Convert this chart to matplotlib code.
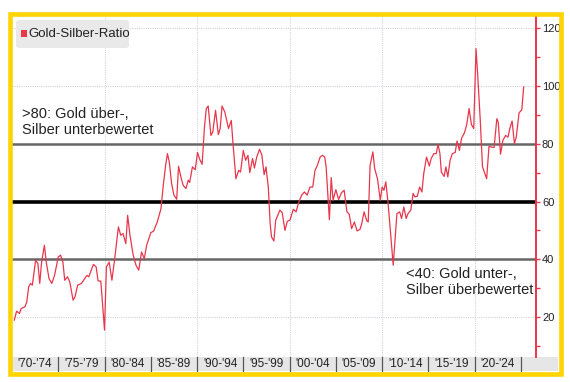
import matplotlib
matplotlib.use("Agg")
import matplotlib.pyplot as plt
from matplotlib.patches import Rectangle, FancyBboxPatch

plt.rcParams['font.family'] = ['Liberation Sans', 'DejaVu Sans']

# Gold-Silber-Ratio
years = [1970.25, 1970.5, 1970.8, 1971.0, 1971.4, 1971.6, 1971.8, 1972.0, 1972.2, 1972.55,
         1972.8, 1973.0, 1973.2, 1973.5, 1973.7, 1974.0, 1974.3, 1974.6, 1975.0, 1975.25,
         1975.5, 1975.7, 1976.0, 1976.25, 1976.6, 1976.8, 1977.1, 1977.5, 1978.1, 1978.3,
         1978.8, 1979.1, 1979.3, 1979.6, 1979.85, 1980.0, 1980.2, 1980.5, 1980.8, 1981.1,
         1981.5, 1981.75, 1982.0, 1982.3, 1982.5, 1982.75, 1983.1, 1983.4, 1983.7, 1984.0,
         1984.3, 1984.55, 1985.0, 1985.3, 1985.7, 1986.1, 1986.35, 1986.6, 1986.8, 1987.0,
         1987.25, 1987.5, 1987.8, 1988.0, 1988.3, 1988.5, 1988.8, 1989.05, 1989.2, 1989.5,
         1989.8, 1990.05, 1990.3, 1990.55, 1990.8, 1991.0, 1991.2, 1991.5, 1991.7, 1992.0,
         1992.3, 1992.5, 1992.7, 1993.0, 1993.4, 1993.7, 1993.9, 1994.2, 1994.5, 1994.7,
         1995.0, 1995.25, 1995.5, 1995.7, 1996.0, 1996.2, 1996.45, 1996.75, 1997.0, 1997.25,
         1997.45, 1997.7, 1997.9, 1998.05, 1998.3, 1998.5, 1998.95, 1999.2, 1999.5, 1999.75,
         2000.05, 2000.4, 2000.7, 2000.95, 2001.3, 2001.6, 2001.9, 2002.2, 2002.5, 2002.75,
         2003.0, 2003.3, 2003.55, 2003.8, 2003.95, 2004.1, 2004.3, 2004.5, 2004.7, 2005.0,
         2005.3, 2005.6, 2005.9, 2006.2, 2006.45, 2006.7, 2007.0, 2007.3, 2007.6, 2007.8,
         2008.05, 2008.35, 2008.5, 2008.7, 2009.0, 2009.2, 2009.5, 2009.8, 2010.0, 2010.2,
         2010.4, 2010.65, 2010.95, 2011.2, 2011.6, 2011.9, 2012.1, 2012.35, 2012.6, 2012.8,
         2013.1, 2013.35, 2013.55, 2013.8, 2014.05, 2014.3, 2014.5, 2014.8, 2015.1, 2015.3,
         2015.6, 2015.85, 2016.05, 2016.25, 2016.4, 2016.7, 2016.9, 2017.1, 2017.35, 2017.6,
         2017.9, 2018.1, 2018.35, 2018.6, 2018.9, 2019.15, 2019.4, 2019.65, 2019.9, 2020.15,
         2020.3, 2020.6, 2020.85, 2021.3, 2021.55, 2021.8, 2022.1, 2022.4, 2022.55, 2022.8,
         2023.05, 2023.35, 2023.6, 2023.8, 2024.05, 2024.3, 2024.5, 2024.8, 2025.1, 2025.3]
ratio = [18.9, 22.0, 21.2, 22.9, 23.5, 25.2, 30.4, 31.6, 31.0, 39.6,
         38.5, 31.6, 39.0, 44.8, 39.0, 33.3, 31.6, 34.4, 40.8, 41.4,
         39.0, 32.7, 33.9, 32.1, 25.8, 26.9, 31.0, 31.6, 34.4, 33.9,
         38.2, 37.3, 32.5, 32.4, 22.0, 15.4, 37.3, 39.0, 32.7, 40.2,
         51.2, 48.3, 48.9, 45.4, 55.2, 48.3, 41.4, 37.9, 36.2, 42.5,
         40.2, 44.8, 49.2, 49.7, 52.9, 57.5, 65.6, 72.5, 76.6, 73.7,
         66.2, 62.2, 60.8, 72.2, 67.9, 65.6, 64.5, 67.4, 66.6, 72.0,
         71.0, 77.0, 74.5, 72.9, 85.8, 92.2, 93.1, 82.9, 84.1, 91.6,
         83.2, 85.3, 93.1, 91.0, 85.3, 88.1, 79.5, 67.9, 70.8, 70.2,
         77.7, 74.3, 76.0, 70.0, 74.9, 71.6, 75.4, 78.1, 76.2, 69.3,
         72.0, 65.0, 52.3, 47.7, 46.3, 53.5, 57.0, 56.2, 50.0, 53.1,
         53.6, 57.3, 56.4, 59.3, 62.2, 63.3, 62.2, 65.0, 65.0, 70.8,
         72.5, 75.4, 76.0, 75.4, 72.0, 63.9, 53.7, 68.3, 60.4, 64.1,
         60.7, 63.0, 63.9, 56.4, 55.6, 50.6, 52.9, 49.8, 50.3, 52.3,
         56.4, 53.3, 52.9, 72.5, 77.2, 71.4, 67.9, 60.4, 65.0, 63.9,
         66.8, 59.3, 47.7, 37.9, 55.8, 56.4, 54.1, 58.1, 54.1, 55.8,
         57.0, 62.8, 61.6, 61.8, 65.0, 63.3, 69.7, 75.4, 72.3, 74.9,
         76.6, 76.6, 79.8, 76.6, 70.2, 68.7, 72.0, 68.5, 74.3, 76.6,
         77.0, 81.0, 77.7, 82.0, 83.8, 86.7, 92.2, 86.7, 85.3, 113.0,
         105.5, 88.7, 72.0, 67.9, 79.1, 78.9, 78.7, 88.7, 87.5, 76.4,
         81.2, 82.9, 82.3, 85.3, 87.9, 80.1, 82.3, 90.7, 91.8, 99.7]

period_starts = [1970, 1975, 1980, 1985, 1990, 1995, 2000, 2005, 2010, 2015, 2020]
period_labels = ["'70-'74", "'75-'79", "'80-'84", "'85-'89", "'90-'94", "'95-'99",
                 "'00-'04", "'05-'09", "'10-'14", "'15-'19", "'20-'24"]
y_major = [20, 40, 60, 80, 100, 120]
y_minor = [10, 30, 50, 70, 90, 110]

RED = '#e8364c'

fig = plt.figure(figsize=(5.7, 3.82), dpi=100)
W, H = 570, 382
ax = fig.add_axes([12 / W, 1 - 357 / H, (535.7 - 12) / W, (357 - 16) / H])
ax.set_xlim(1970, 2026.6)
ax.set_ylim(6.1, 124.3)

# grid
for yv in [20, 100, 120]:
    ax.axhline(yv, color='#d2d2dc', lw=0.8, ls=(0, (1, 1)), zorder=1)
for xv in [1980, 1990, 2000, 2010, 2020]:
    ax.axvline(xv, color='#d2d2dc', lw=0.8, ls=(0, (1, 1)), zorder=1)

# threshold lines
ax.axhline(80, color='#666666', lw=1.8, zorder=2)
ax.axhline(40, color='#666666', lw=1.8, zorder=2)
ax.axhline(60, color='black', lw=2.6, zorder=2)

ax.plot(years, ratio, color=RED, lw=0.9, zorder=3)

# axes styling
for s in ['left', 'top', 'bottom']:
    ax.spines[s].set_visible(False)
ax.spines['right'].set_color(RED)
ax.spines['right'].set_linewidth(1.4)
ax.yaxis.tick_right()
ax.set_yticks(y_major)
ax.set_yticks(y_minor, minor=True)
ax.tick_params(axis='y', which='both', colors=RED, length=3, width=1, labelcolor='#222222',
               labelsize=8, pad=1.5)
ax.set_xticks([])

# x axis band with period labels
tr = ax.get_xaxis_transform()
band_h = 14 / 341
ax.add_patch(Rectangle((1970, -band_h), 2029.0 - 1970, band_h, transform=tr,
                       facecolor='#e6e6e6', edgecolor='none', clip_on=False, zorder=0))
for x0, lab in zip(period_starts, period_labels):
    ax.text(x0 + 2.5, -band_h / 2, lab, transform=tr, ha='center', va='center',
            fontsize=8.5, color='#222222', clip_on=False)
    ax.plot([x0 + 5, x0 + 5], [-band_h, 0], transform=tr, color='#555555', lw=0.9,
            clip_on=False)

# annotations
ax.text(1971.07, 87.6, ">80: Gold über-,\nSilber unterbewertet", ha='left', va='center',
        fontsize=10.5, color='#222222', linespacing=1.2, zorder=4)
ax.text(2012.6, 32.1, "<40: Gold unter-,\nSilber überbewertet", ha='left', va='center',
        fontsize=10.5, color='#222222', linespacing=1.2, zorder=4)

# legend box
fig.patches.append(FancyBboxPatch((16 / W, 1 - 48 / H), 113 / W, 28 / H,
                                  boxstyle='round,pad=0,rounding_size=0.006',
                                  transform=fig.transFigure, facecolor='#e9e9e9',
                                  edgecolor='none', zorder=5))
fig.patches.append(Rectangle((21 / W, 1 - 37 / H), 6 / W, 7 / H, transform=fig.transFigure,
                             facecolor=RED, edgecolor='none', zorder=6))
fig.text(28 / W, 1 - 34 / H, "Gold-Silber-Ratio", ha='left', va='center', fontsize=9.5,
         color='#222222', zorder=7)

# yellow frame
fig.patches.append(Rectangle((10.5 / W, 1 - 374 / H), (561 - 10.5) / W, (374 - 14) / H,
                             transform=fig.transFigure, facecolor='none',
                             edgecolor='#ffd400', lw=3.3, zorder=10))

fig.savefig('out.png', dpi=100)
